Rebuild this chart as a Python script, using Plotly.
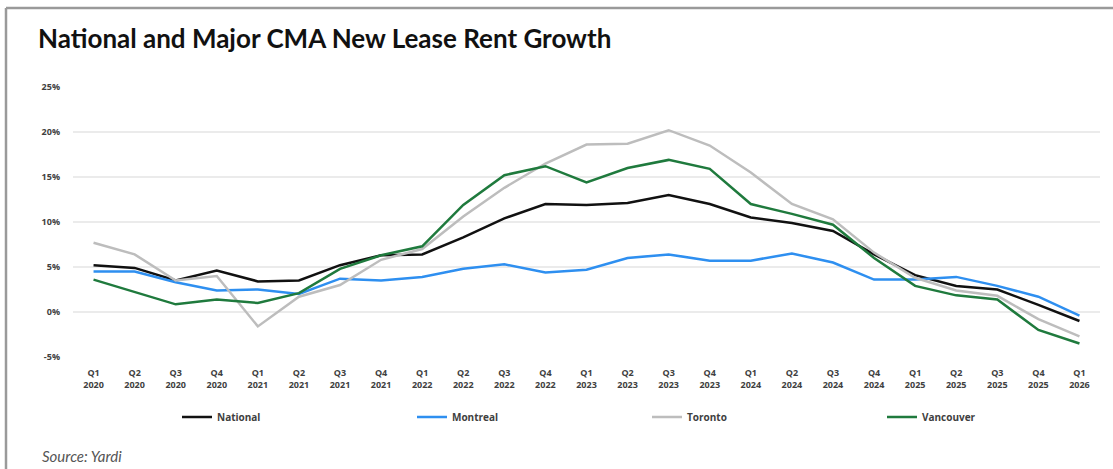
import plotly.graph_objects as go

# Quarterly periods, Q1 2020 through Q1 2026
quarters = [
    "Q1<br>2020", "Q2<br>2020", "Q3<br>2020", "Q4<br>2020",
    "Q1<br>2021", "Q2<br>2021", "Q3<br>2021", "Q4<br>2021",
    "Q1<br>2022", "Q2<br>2022", "Q3<br>2022", "Q4<br>2022",
    "Q1<br>2023", "Q2<br>2023", "Q3<br>2023", "Q4<br>2023",
    "Q1<br>2024", "Q2<br>2024", "Q3<br>2024", "Q4<br>2024",
    "Q1<br>2025", "Q2<br>2025", "Q3<br>2025", "Q4<br>2025",
    "Q1<br>2026",
]

# New lease rent growth, year over year (%)
national = [5.2, 4.9, 3.5, 4.6, 3.4, 3.5, 5.2, 6.3, 6.4, 8.3, 10.4, 12.0,
            11.9, 12.1, 13.0, 12.0, 10.5, 9.9, 9.0, 6.4, 4.1, 2.9, 2.5, 0.8,
            -1.0]
montreal = [4.5, 4.5, 3.3, 2.4, 2.5, 2.0, 3.7, 3.5, 3.9, 4.8, 5.3, 4.4,
            4.7, 6.0, 6.4, 5.7, 5.7, 6.5, 5.5, 3.6, 3.6, 3.9, 2.9, 1.7,
            -0.4]
toronto = [7.7, 6.4, 3.5, 4.0, -1.6, 1.7, 3.0, 5.8, 7.0, 10.6, 13.8, 16.5,
           18.6, 18.7, 20.2, 18.5, 15.5, 12.0, 10.3, 6.6, 3.8, 2.4, 1.8, -0.8,
           -2.7]
vancouver = [3.6, 2.2, 0.85, 1.4, 1.0, 2.1, 4.8, 6.3, 7.3, 11.9, 15.2, 16.2,
             14.4, 16.0, 16.9, 15.9, 12.0, 10.9, 9.7, 6.0, 2.9, 1.85, 1.4, -2.0,
             -3.5]

y_ticks = [-5, 0, 5, 10, 15, 20, 25]
y_tick_labels = ["-5%", "0%", "5%", "10%", "15%", "20%", "25%"]

# name, values, colour, width reserved for the legend entry
series = [
    ("National", national, "#111111", 190),
    ("Montreal", montreal, "#2e8ff0", 190),
    ("Toronto", toronto, "#bdbdbd", 190),
    ("Vancouver", vancouver, "#1f7a3d", None),
]

fig = go.Figure()
for name, values, color, entry_w in series:
    fig.add_trace(go.Scatter(
        x=quarters, y=values, name=name, mode="lines",
        line=dict(color=color, width=2.5),
        legendwidth=entry_w,
    ))

tick_font = dict(family="Open Sans, Liberation Sans, sans-serif", size=9,
                 color="#404040", weight="bold")

fig.update_layout(
    width=1113, height=469,
    margin=dict(l=73, r=13, t=87, b=112),
    paper_bgcolor="white", plot_bgcolor="white",
    title=dict(
        text="<b>National and Major CMA New Lease Rent Growth</b>",
        font=dict(family="Lato, sans-serif", size=26, color="#111111"),
        x=38 / 1113, xanchor="left", xref="container",
        y=1 - 39 / 469, yanchor="middle", yref="container",
    ),
    xaxis=dict(
        type="category", range=[-0.5, len(quarters) - 0.5],
        showgrid=False, showline=False, zeroline=False,
        ticks="", tickfont=tick_font, tickangle=0,
        ticklabelstandoff=9,
    ),
    yaxis=dict(
        range=[-5, 25], tickvals=y_ticks, ticktext=y_tick_labels,
        showgrid=True, gridcolor="#ebebeb", gridwidth=2,
        zeroline=False, showline=False, ticks="",
        tickfont=tick_font, ticklabelstandoff=12,
    ),
    legend=dict(
        orientation="h", x=(177 - 73) / 1027, xanchor="left",
        y=(357 - 417) / 270, yanchor="middle",
        font=dict(family="Open Sans, Liberation Sans, sans-serif", size=10,
                  color="#404040", weight="bold"),
        itemwidth=30, bgcolor="rgba(0,0,0,0)",
    ),
    showlegend=True,
    annotations=[
        dict(
            text="<i>Source: Yardi</i>", showarrow=False,
            xref="paper", yref="paper",
            x=(40 - 73) / 1027, xanchor="left",
            y=(357 - 456) / 270, yanchor="middle",
            font=dict(family="Lato, sans-serif", size=15, color="#555555"),
        )
    ],
    shapes=[
        # frame along the top and left edges
        dict(type="line", xref="paper", yref="paper",
             x0=(6 - 73) / 1027, x1=(1113 - 73) / 1027,
             y0=(357 - 8) / 270, y1=(357 - 8) / 270,
             line=dict(color="#9a9a9a", width=2.5)),
        dict(type="line", xref="paper", yref="paper",
             x0=(6 - 73) / 1027, x1=(6 - 73) / 1027,
             y0=(357 - 8) / 270, y1=(357 - 469) / 270,
             line=dict(color="#9a9a9a", width=2.5)),
    ],
)

fig.write_html("out.html")
